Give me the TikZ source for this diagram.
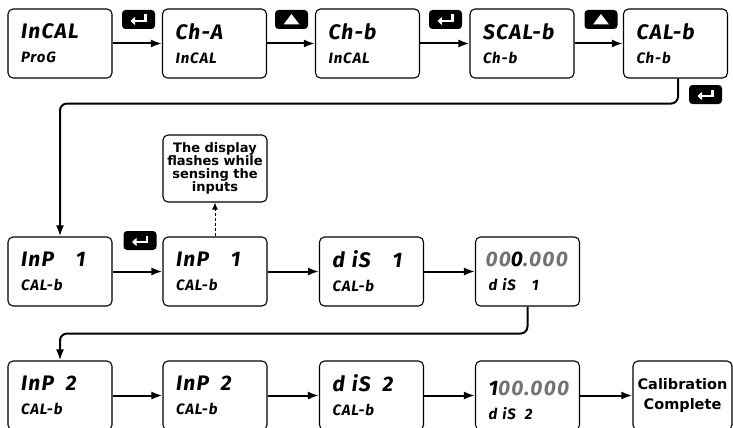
\documentclass[tikz,border=0pt]{standalone}
\usepackage{fontspec}
\setmainfont{Liberation Sans}
\newfontfamily\segfont{Fira Sans}[LetterSpace=6]
\newfontfamily\notefont{DejaVu Sans}
\usetikzlibrary{positioning,calc,arrows.meta}

\tikzset{
  dispbox/.style={draw, rounded corners=5pt, line width=1.1pt,
    minimum width=104pt, minimum height=69pt, text width=78pt,
    align=left, inner sep=0pt, font=\fontsize{13}{24}\selectfont},
  notebox/.style={draw, rounded corners=5pt, line width=1.1pt,
    minimum width=104pt, minimum height=67pt, align=center, inner sep=0pt,
    font=\notefont\bfseries\fontsize{13}{13.2}\selectfont},
  endbox/.style={draw, rounded corners=5pt, line width=1.1pt,
    minimum width=99pt, minimum height=69pt, align=center, inner sep=0pt,
    font=\notefont\bfseries\fontsize{14.5}{20}\selectfont},
  keybox/.style={fill=black, rounded corners=3.5pt, minimum width=33pt,
    minimum height=19pt, inner sep=0pt},
  flow/.style={line width=2pt, -{Latex[length=11pt,width=8pt]}},
  enterkey/.pic={
    \node[keybox] (-bg) {};
    \draw[white, line width=2.2pt, -{Triangle[length=4.5pt,width=8pt]}]
      (7,-5) -- (7,1.5) -- (-8,1.5);
  },
  upkey/.pic={
    \node[keybox] (-bg) {};
    \fill[white] (-8,5) -- (8,5) -- (0,-5.5) -- cycle;
  },
}
\newcommand{\bigseg}[1]{{\segfont\bfseries\itshape\fontsize{21}{24}\selectfont #1}}
\newcommand{\smallseg}[1]{{\segfont\bfseries\itshape\fontsize{15}{24}\selectfont #1}}
\newcommand{\offseg}[1]{\textcolor{black!55}{#1}}
\newcommand{\gap}[1]{\hspace{#1pt}}

\begin{document}
\begin{tikzpicture}[x=1pt,y=-1pt]
        \useasboundingbox (0,0) rectangle (733,428);
        \clip (0,0) rectangle (733,428);

        % first row
        \node[dispbox] (b1) at (60,43.5) {\bigseg{InCAL}\\\smallseg{ProG}};
        \node[dispbox] (b2) at (214.5,43.5) {\bigseg{Ch-A}\\\smallseg{InCAL}};
        \node[dispbox] (b3) at (367.5,43.5) {\bigseg{Ch-b}\\\smallseg{InCAL}};
        \node[dispbox] (b4) at (522,43.5) {\bigseg{SCAL-b}\\\smallseg{Ch-b}};
        \node[dispbox] (b5) at (675.5,43.5) {\bigseg{CAL-b}\\\smallseg{Ch-b}};

        % second row
        \node[dispbox] (m1) at (60,271.5) {\bigseg{InP\gap{22}1}\\\smallseg{CAL-b}};
        \node[dispbox] (m2) at (215,271.5) {\bigseg{InP\gap{22}1}\\\smallseg{CAL-b}};
        \node[dispbox] (m3) at (371.5,271.5) {\bigseg{d\gap{7}iS\gap{22}1}\\\smallseg{CAL-b}};
        \node[dispbox] (m4) at (527.5,271.5)
          {\hspace*{-3pt}\bigseg{\offseg{00}0\offseg{.000}}\\\smallseg{d\gap{5}iS\gap{16}1}};

        % note
        \node[notebox] (note) at (215,168.5)
          {The display\\flashes while\\sensing the\\inputs};

        % third row
        \node[dispbox] (r1) at (60,395.5) {\bigseg{InP\gap{12}2}\\\smallseg{CAL-b}};
        \node[dispbox] (r2) at (215,395.5) {\bigseg{InP\gap{12}2}\\\smallseg{CAL-b}};
        \node[dispbox] (r3) at (371.5,395.5) {\bigseg{d\gap{7}iS\gap{12}2}\\\smallseg{CAL-b}};
        \node[dispbox] (r4) at (527.5,395.5)
          {\hfill\bigseg{1\offseg{00.000}}\hspace*{-4pt}\\\smallseg{d\gap{5}iS\gap{9}2}};
        \node[endbox] (r5) at (682.5,395.5) {Calibration\\Complete};

        % keys
        \pic (k1) at (138.5,19.5) {enterkey};
        \pic (k2) at (291.5,19.5) {upkey};
        \pic (k3) at (445.5,19.5) {enterkey};
        \pic (k4) at (601,19.5) {upkey};
        \pic (k5) at (705.5,94.5) {enterkey};
        \pic (k6) at (140,240.5) {enterkey};

        % arrows
        \draw[flow] (b1.east) -- (b2.west);
        \draw[flow] (b2.east) -- (b3.west);
        \draw[flow] (b3.east) -- (b4.west);
        \draw[flow] (b4.east) -- (b5.west);
        \draw[flow, rounded corners=7pt] ([xshift=2.5pt]b5.south) -- ++(0,25) -| (m1.north);

        \draw[flow] (m1.east) -- (m2.west);
        \draw[flow] (m2.east) -- (m3.west);
        \draw[flow] (m3.east) -- (m4.west);
        \draw[line width=1pt, densely dashed, -{Latex[length=7pt,width=6pt]}] (m2.north) -- (note.south);
        \draw[flow, rounded corners=7pt] (m4.south) -- ++(0,27) -| (r1.north);

        \draw[flow] (r1.east) -- (r2.west);
        \draw[flow] (r2.east) -- (r3.west);
        \draw[flow] (r3.east) -- (r4.west);
        \draw[flow] (r4.east) -- (r5.west);
\end{tikzpicture}
\end{document}
